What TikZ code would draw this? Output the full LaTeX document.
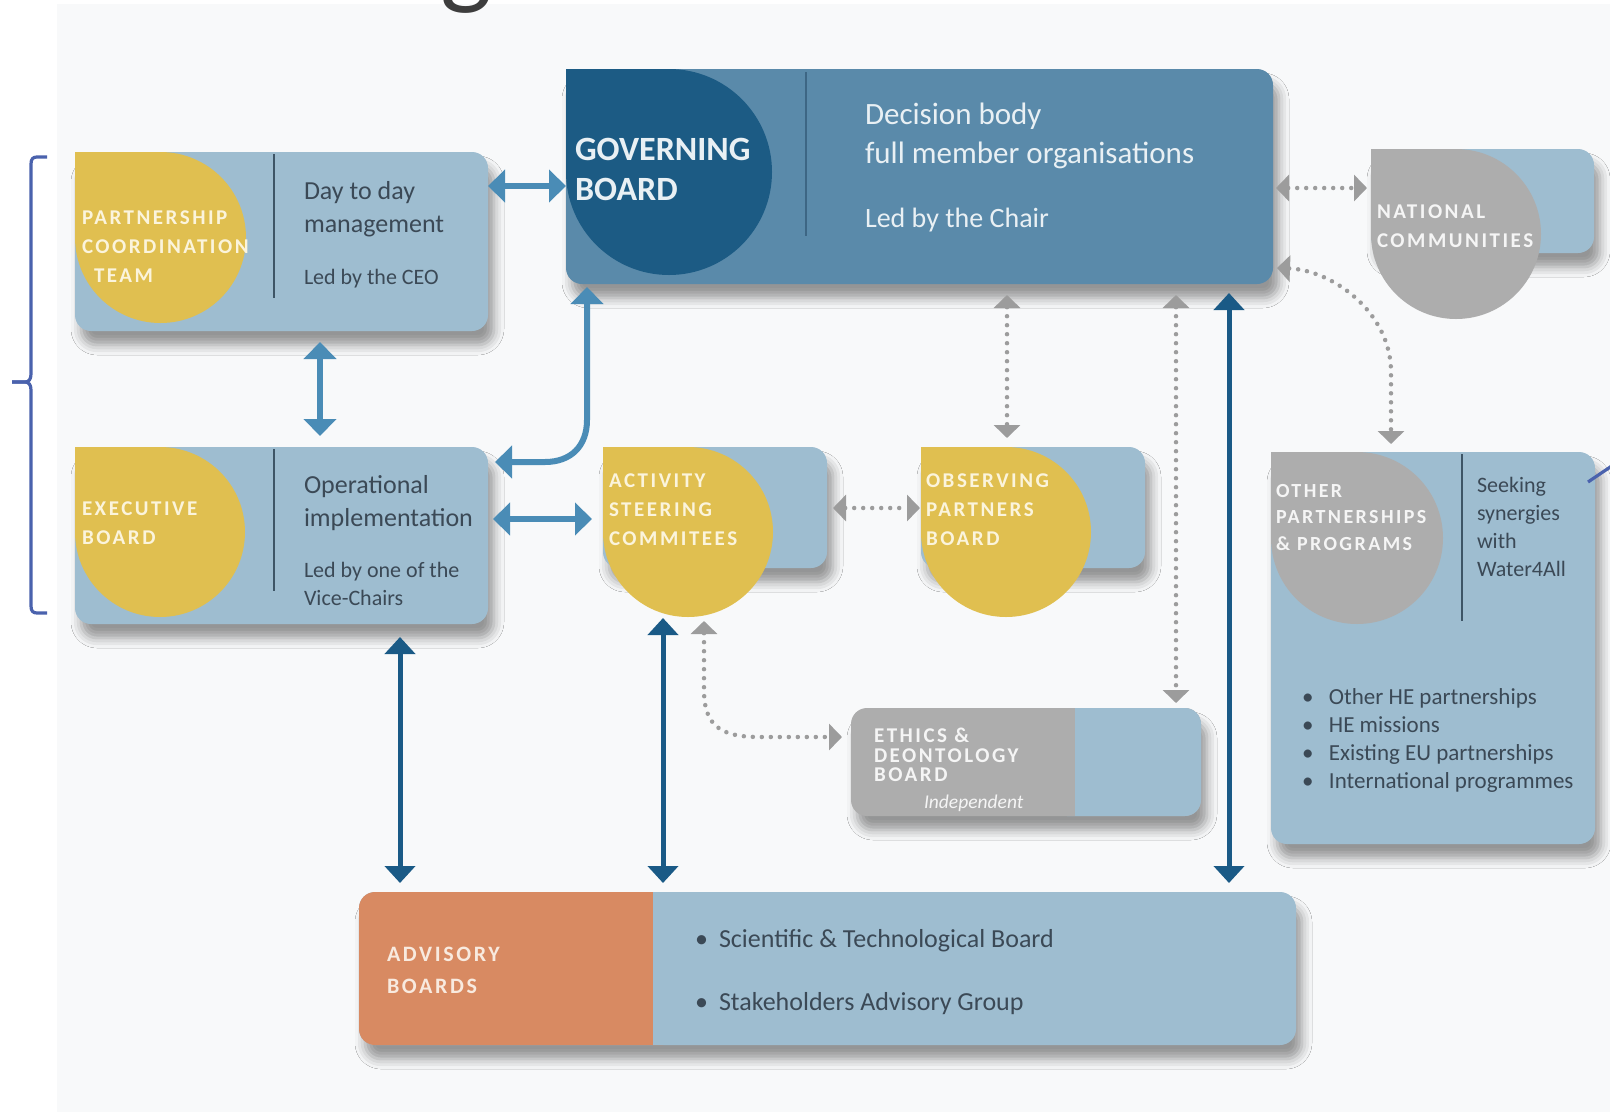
\documentclass[tikz,border=0pt]{standalone}
\usepackage{fontspec}
\setmainfont{Carlito}
\newfontfamily\capsfont[LetterSpace=12]{Carlito}
\usetikzlibrary{arrows.meta,shadows.blur,calc}
\definecolor{panel}{HTML}{F8F9FA}
\definecolor{lb}{HTML}{9EBDD0}
\definecolor{gbc}{HTML}{5A8AAA}
\definecolor{gbdark}{HTML}{1C5B84}
\definecolor{ylw}{HTML}{E0BF50}
\definecolor{gry}{HTML}{ADADAD}
\definecolor{orng}{HTML}{D88A62}
\definecolor{txt}{HTML}{3B4956}
\definecolor{capY}{HTML}{FBF4DC}
\definecolor{capG}{HTML}{F5F5F5}
\definecolor{capO}{HTML}{F8EADF}
\definecolor{gbtext}{HTML}{E9F0F4}
\definecolor{divc}{HTML}{3E5566}
\definecolor{divgb}{HTML}{3D6684}
\definecolor{arrLB}{HTML}{4A8CB6}
\definecolor{arrDK}{HTML}{1A5A86}
\definecolor{arrGR}{HTML}{9C9C9C}
\definecolor{bracec}{HTML}{4A62AD}
\definecolor{ttl}{HTML}{3D3D3D}
\newcommand\myblob[3]{%
  \fill[#3] (#1.north west) rectangle ++(#2,#2);
  \fill[#3] ($(#1.north west)+(#2,#2)$) circle[radius=#2];}
\begin{document}
\begin{tikzpicture}[x=1pt,y=-1pt,
  box/.style={rounded corners=16pt, inner sep=0pt, outer sep=0pt, anchor=north west,
    blur shadow={shadow xshift=6pt, shadow yshift=-14pt, shadow blur radius=10pt, shadow opacity=40}},
  txtnode/.style={inner sep=0pt, outer sep=0pt, anchor=north west, align=left},
  capsty/.style={txtnode, font=\capsfont\bfseries\fontsize{21}{29}\selectfont},
  body/.style={txtnode, text=txt, font=\fontsize{26}{33}\selectfont},
  small/.style={txtnode, text=txt, font=\fontsize{22}{28}\selectfont},
  divline/.style={draw=divc, line width=2pt},
  lbarr/.style={draw=arrLB, line width=6pt, {Triangle[width=32pt,length=17pt]}-{Triangle[width=32pt,length=17pt]}},
  dkarr/.style={draw=arrDK, line width=5pt, {Triangle[width=30pt,length=17pt]}-{Triangle[width=30pt,length=17pt]}},
  dotarr/.style={draw=arrGR, line width=4.5pt, line cap=round, dash pattern=on 0pt off 9pt,
    {Triangle[width=26pt,length=13pt]}-{Triangle[width=26pt,length=13pt]}},
  bracel/.style={draw=bracec, line width=3.2pt}
]
\useasboundingbox (0,0) rectangle (1610,1112);
\fill[white] (0,0) rectangle (1610,1112);
\fill[panel] (57,4) rectangle (1610,1112);

% title fragment
\node[anchor=south, inner sep=0pt, outer sep=0pt, font=\fontsize{110}{110}\selectfont, text=ttl] (title) at (466,13) {g};

% boxes
\node[box, fill=lb, minimum width=413pt, minimum height=179pt] (pct) at (75,152) {};
\node[box, fill=lb, minimum width=413pt, minimum height=177pt] (eb) at (75,447) {};
\node[box, fill=gbc, minimum width=707pt, minimum height=215pt] (gb) at (566,69) {};
\node[box, fill=lb, minimum width=223pt, minimum height=104pt] (nc) at (1371,149) {};
\node[box, fill=lb, minimum width=324pt, minimum height=392pt] (op) at (1271,452) {};
\node[box, fill=lb, minimum width=224pt, minimum height=121pt] (asc) at (603,447) {};
\node[box, fill=lb, minimum width=224pt, minimum height=121pt] (opb) at (921,447) {};
\node[box, fill=gry, minimum width=350pt, minimum height=108pt] (eth) at (851,708) {};
\node[box, fill=lb, minimum width=937pt, minimum height=153pt] (adv) at (359,892) {};

% coloured parts
\myblob{pct}{85.5}{ylw}
\myblob{eb}{85}{ylw}
\myblob{gb}{103}{gbdark}
\myblob{nc}{85}{gry}
\myblob{op}{86}{gry}
\myblob{asc}{85}{ylw}
\myblob{opb}{85}{ylw}
\fill[lb, rounded corners=16pt] ($(eth.north west)+(200,0)$) rectangle (eth.south east);
\fill[gry] ($(eth.north west)+(195,0)$) rectangle ($(eth.south west)+(224,0)$);
\fill[orng, rounded corners=16pt] (adv.north west) rectangle ($(adv.south west)+(320,0)$);
\fill[lb] ($(adv.north west)+(294,0)$) rectangle ($(adv.south west)+(340,0)$);
\coordinate (ascbot) at ($(asc.north west)+(85,170)$);

% dividers
\draw[divline] ($(pct.north west)+(199,2)$) -- ++(0,144);
\draw[divline] ($(eb.north west)+(199,2)$) -- ++(0,142);
\draw[draw=divgb, line width=2pt] ($(gb.north west)+(240,3)$) -- ++(0,164);
\draw[divline] ($(op.north west)+(191,2)$) -- ++(0,167);

% texts
\node[capsty, text=capY] (pcttxt) at (82,211) {PARTNERSHIP\\COORDINATION\\\hspace*{12pt}TEAM};
\node[body] (pctd) at (304,181) {Day to day\\management};
\node[small] (pctl) at (304,269) {Led by the CEO};

\node[capsty, text=capY] (ebtxt) at (82,502) {EXECUTIVE\\BOARD};
\node[body] (ebd) at (304,475) {Operational\\implementation};
\node[small] (ebl) at (304,562) {Led by one of the\\Vice-Chairs};

\node[txtnode, text=gbtext, font=\bfseries\fontsize{34}{40}\selectfont] (gbtxt) at (575,138) {GOVERNING\\BOARD};
\node[txtnode, text=gbtext, font=\fontsize{31}{39}\selectfont] (gbd) at (865,103) {Decision body\\full member organisations};
\node[txtnode, text=gbtext, font=\fontsize{28}{34}\selectfont] (gbl) at (865,208) {Led by the Chair};

\node[capsty, text=capG] (nctxt) at (1377,205) {NATIONAL\\COMMUNITIES};

\node[capsty, text=capG, font=\capsfont\bfseries\fontsize{20}{26.5}\selectfont] (optxt) at (1276,484) {OTHER\\PARTNERSHIPS\\\& PROGRAMS};
\node[small] (ops) at (1477,477) {Seeking\\synergies\\with\\Water4All};
\node[small, font=\fontsize{23}{28}\selectfont] (opl) at (1302,689) {\makebox[27pt][l]{\textbullet}Other HE partnerships\\\makebox[27pt][l]{\textbullet}HE missions\\\makebox[27pt][l]{\textbullet}Existing EU partnerships\\\makebox[27pt][l]{\textbullet}International programmes};

\node[capsty, text=capY] (asctxt) at (609,474) {ACTIVITY\\STEERING\\COMMITEES};
\node[capsty, text=capY] (opbtxt) at (926,474) {OBSERVING\\PARTNERS\\BOARD};

\node[capsty, text=capG, font=\capsfont\bfseries\fontsize{21}{19.5}\selectfont] (ethtxt) at (874,728) {ETHICS \&\\DEONTOLOGY\\BOARD};
\node[txtnode, text=capG, font=\itshape\fontsize{19.5}{20}\selectfont] (ethi) at (924,795) {Independent};

\node[capsty, text=capO, font=\capsfont\bfseries\fontsize{22}{32}\selectfont] (advtxt) at (387,947) {ADVISORY\\BOARDS};
\node[body] (adv1) at (695,929) {\makebox[24pt][l]{\textbullet}Scientific \& Technological Board};
\node[body] (adv2) at (695,992) {\makebox[24pt][l]{\textbullet}Stakeholders Advisory Group};

% light blue arrows
\draw[lbarr] (pct.east |- 0,186) -- (gb.west |- 0,186);
\draw[lbarr, shorten <=11pt, shorten >=11pt] (pct.south -| 320,0) -- (eb.north -| 320,0);
\draw[lbarr, shorten >=3pt] ($(eb.north east)+(7,15)$) -- (545,462) .. controls (571,462) and (587,446) .. (587,420) -- (gb.south -| 587,0);
\draw[lbarr, shorten <=5pt, shorten >=11pt] (eb.east |- 0,519) -- (asc.west |- 0,519);

% dark arrows
\draw[dkarr, shorten <=13pt, shorten >=9pt] (eb.south -| 400,0) -- (adv.north -| 400,0);
\draw[dkarr, shorten <=1pt, shorten >=9pt] (ascbot -| 663,0) -- (adv.north -| 663,0);
\draw[dkarr, shorten <=9pt, shorten >=9pt] (gb.south -| 1229,0) -- (adv.north -| 1229,0);

% dotted arrows
\draw[dotarr, shorten <=11pt, shorten >=9pt] (gb.south -| 1007,0) -- (opb.north -| 1007,0);
\draw[dotarr, shorten <=11pt, shorten >=5pt] (gb.south -| 1176,0) -- (eth.north -| 1176,0);
\draw[dotarr, shorten <=6pt, shorten >=1pt] (asc.east |- 0,508) -- (opb.west |- 0,508);
\draw[dotarr, shorten >=9pt] ($(ascbot)+(16,4)$) -- (704,690) .. controls (704,727) and (722,737) .. (760,737) -- (eth.west |- 0,737);
\draw[dotarr, shorten <=3pt, shorten >=4pt] (gb.east |- 0,188) -- (nc.west |- 0,188);
\draw[dotarr, shorten >=8pt] ($(gb.south east)+(4,-16)$) .. controls (1332,270) and (1391,312) .. (1391,372) -- (op.north -| 1391,0);

% brace and side line
\coordinate (brtop) at (47,157);
\coordinate (brbot) at (47,613);
\coordinate (brtip) at (12,382);
\draw[bracel] (brtop) -- (37,157) .. controls (33,157) and (31,159) .. (31,164) -- (31,374) .. controls (31,379) and (29,382) .. (25,382) -- (brtip);
\draw[bracel] (brtip) -- (25,382) .. controls (29,382) and (31,385) .. (31,390) -- (31,606) .. controls (31,611) and (33,613) .. (37,613) -- (brbot);
\coordinate (sl1) at (1588,482);
\coordinate (sl2) at (1628,455);
\draw[bracel] (sl1) -- (sl2);
\end{tikzpicture}
\end{document}
